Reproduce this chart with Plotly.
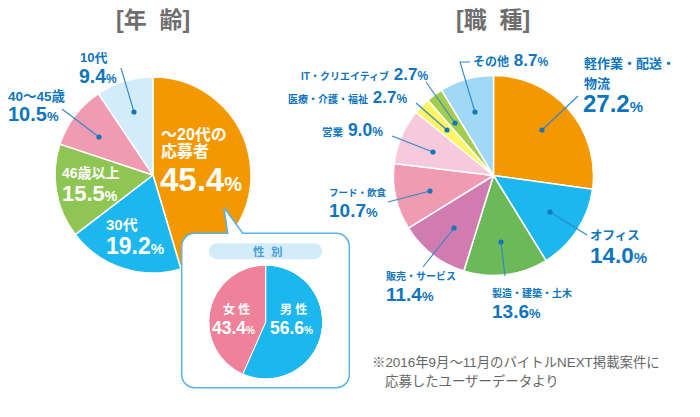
import plotly.graph_objects as go

W, H = 700, 417

# data
age_labels = ["~20代", "30代", "46歳以上", "40~45歳", "10代"]
age_values = [45.4, 19.2, 15.5, 10.5, 9.4]
age_colors = ["#f39800", "#1cb7ee", "#8fc553", "#f09bb2", "#d3ecfa"]

job_labels = ["軽作業・配送・物流", "オフィス", "製造・建築・土木", "販売・サービス", "フード・飲食",
              "営業", "医療・介護・福祉", "IT・クリエイティブ", "その他"]
job_values = [27.2, 14.0, 13.6, 11.4, 10.7, 9.0, 2.7, 2.7, 8.7]
job_colors = ["#f39800", "#1cb7ee", "#6cb959", "#d07cb0", "#f09bb2",
              "#f7c9dd", "#fff462", "#a4cc4f", "#a0d8f6"]

sex_labels = ["男性", "女性"]
sex_values = [56.6, 43.4]
sex_colors = ["#1cb7ee", "#ee829a"]

BLUE = "#0f75bd"
LEAD = "#2f88c8"
GRAY = "#6e6e6e"
FONT = "Liberation Sans, Noto Sans CJK JP"


def px(x):
    return x / W


def py(y):
    return 1 - y / H


def pt(x, y):
    return f"{px(x):.5f},{py(y):.5f}"


def pie(labels, values, colors, cx, cy, r, lw):
    return go.Pie(
        labels=labels, values=values, sort=False, direction="clockwise", rotation=0,
        marker=dict(colors=colors, line=dict(color="white", width=lw)),
        textinfo="none", hoverinfo="label+value", showlegend=False,
        domain=dict(x=[px(cx - r), px(cx + r)], y=[py(cy + r), py(cy - r)]),
    )


fig = go.Figure()
fig.add_trace(pie(age_labels, age_values, age_colors, 153, 175, 98, 1.5))
fig.add_trace(pie(job_labels, job_values, job_colors, 493.5, 175.5, 100, 1.5))
fig.add_trace(pie(sex_labels, sex_values, sex_colors, 265.7, 322, 57, 1))


# callout outline with the tail, clockwise
def callout_path(x0, y0, x1, y1, r):
    k = r * 0.45
    return (
        f"M{pt(x0 + r, y0)} L{pt(227.7, y0)} L{pt(224, 207.5)} L{pt(242.7, y0)} L{pt(x1 - r, y0)} "
        f"C{pt(x1 - k, y0)} {pt(x1, y0 + k)} {pt(x1, y0 + r)} L{pt(x1, y1 - r)} "
        f"C{pt(x1, y1 - k)} {pt(x1 - k, y1)} {pt(x1 - r, y1)} L{pt(x0 + r, y1)} "
        f"C{pt(x0 + k, y1)} {pt(x0, y1 - k)} {pt(x0, y1 - r)} L{pt(x0, y0 + r)} "
        f"C{pt(x0, y0 + k)} {pt(x0 + k, y0)} {pt(x0 + r, y0)} Z"
    )


# counter-clockwise circle, cut out so the small pie stays visible through the white box
def hole_path(cx, cy, r):
    k = r * 0.5523
    return (
        f"M{pt(cx, cy - r)} C{pt(cx - k, cy - r)} {pt(cx - r, cy - k)} {pt(cx - r, cy)} "
        f"C{pt(cx - r, cy + k)} {pt(cx - k, cy + r)} {pt(cx, cy + r)} "
        f"C{pt(cx + k, cy + r)} {pt(cx + r, cy + k)} {pt(cx + r, cy)} "
        f"C{pt(cx + r, cy - k)} {pt(cx + k, cy - r)} {pt(cx, cy - r)} Z"
    )


def pill_path(x0, y0, x1, y1):
    r = (y1 - y0) / 2
    k = r * 0.5523
    return (
        f"M{pt(x0 + r, y0)} L{pt(x1 - r, y0)} "
        f"C{pt(x1 - r + k, y0)} {pt(x1, y0 + r - k)} {pt(x1, y0 + r)} "
        f"C{pt(x1, y1 - r + k)} {pt(x1 - r + k, y1)} {pt(x1 - r, y1)} L{pt(x0 + r, y1)} "
        f"C{pt(x0 + r - k, y1)} {pt(x0, y0 + r + k)} {pt(x0, y0 + r)} "
        f"C{pt(x0, y0 + r - k)} {pt(x0 + r - k, y0)} {pt(x0 + r, y0)} Z"
    )


box = callout_path(181.7, 233.3, 349.3, 387.7, 13)
fig.add_shape(type="path", path=box + " " + hole_path(265.7, 322, 56.5),
              xref="paper", yref="paper", fillcolor="white", line_width=0)
fig.add_shape(type="path", path=box, xref="paper", yref="paper",
              fillcolor="rgba(0,0,0,0)", line=dict(color="#56b4e6", width=1.5))
fig.add_shape(type="path", path=pill_path(209, 243.3, 322, 259.3), xref="paper", yref="paper",
              fillcolor="#d3ecfa", line_width=0)

# leader lines: points run from the label to the dot
leaders = [
    [(121, 68), (134, 112)],
    [(62, 109), (99, 137)],
    [(578, 96), (542, 130)],
    [(470, 62), (460, 62), (475, 112)],
    [(426, 82), (455, 123)],
    [(416, 103), (447, 130)],
    [(392, 136), (433, 152)],
    [(388, 202), (430, 191)],
    [(423, 267), (454, 228)],
    [(505, 276), (501, 242)],
    [(587, 235), (550, 212)],
]
for pts in leaders:
    path = "M" + " L".join(pt(x, y) for x, y in pts)
    fig.add_shape(type="path", path=path, xref="paper", yref="paper",
                  line=dict(color=LEAD, width=1.1))
    x, y = pts[-1]
    fig.add_shape(type="circle", xref="paper", yref="paper",
                  x0=px(x - 2.6), x1=px(x + 2.6), y0=py(y + 2.6), y1=py(y - 2.6),
                  fillcolor=BLUE, line_width=0)


def text(x, y, s, size, color=BLUE, anchor="left", bold=True):
    s = f"<b>{s}</b>" if bold else s
    fig.add_annotation(x=px(x), y=py(y), xref="paper", yref="paper", text=s, showarrow=False,
                       xanchor=anchor, yanchor="middle", align="left",
                       font=dict(family=FONT, size=size, color=color),
                       borderpad=0, borderwidth=0)


def pct(v, size, unit):
    return f"<span style='font-size:{size}px'>{v:.1f}</span><span style='font-size:{unit}px'>%</span>"


def small(s, size):
    return f"<span style='font-size:{size}px'>{s}</span>"


text(153, 20, "[年  齢]", 23, GRAY, "center")
text(493, 20, "[職  種]", 23, GRAY, "center")

# age labels
text(80, 57, age_labels[4], 13)
text(79, 76, pct(age_values[4], 19.5, 12), 19.5)
text(8, 96, "40〜45歳", 13.5)
text(8, 114, pct(age_values[3], 20, 13), 20)
text(161, 134, "〜20代の", 16, "white")
text(161, 151, "応募者", 16, "white")
text(160, 179, pct(age_values[0], 33, 20), 33, "white")
text(62, 173, age_labels[2], 14, "white")
text(62, 193, pct(age_values[2], 22, 14), 22, "white")
text(106, 224, age_labels[1], 15, "white")
text(106, 246, pct(age_values[1], 23, 15), 23, "white")

# sex labels
text(267, 251, "性  別", 11.5, "#4a9fd8", "center")
text(236, 309, "女 性", 12, "white", "center")
text(293, 309, "男 性", 12, "white", "center")
text(212, 328, pct(sex_values[1], 17.5, 10), 17.5, "white")
text(270, 328, pct(sex_values[0], 17.5, 10), 17.5, "white")

# job labels
text(584, 64, "軽作業・配送・", 13)
text(584, 83, "物流", 13)
text(583, 103, pct(job_values[0], 24, 15), 24)
text(473, 61, small(job_labels[8], 12) + " " + pct(job_values[8], 17, 12), 17)
text(301, 74, small(job_labels[7], 10) + " " + pct(job_values[7], 17, 12), 17)
text(288, 97, small(job_labels[6], 10) + " " + pct(job_values[6], 17, 12), 17)
text(322, 130, small(job_labels[5], 10.5) + " " + pct(job_values[5], 17.5, 12), 17.5)
text(329, 192, job_labels[4], 9.5)
text(329, 210, pct(job_values[4], 19, 13), 19)
text(386, 276, job_labels[3], 10)
text(386, 294, pct(job_values[3], 19, 13), 19)
text(492, 293, job_labels[2], 10)
text(492, 311, pct(job_values[2], 19, 13), 19)
text(590, 236, job_labels[1], 12.5)
text(590, 256, pct(job_values[1], 22.5, 15), 22.5)

# note
text(372, 362, "※2016年9月〜11月のバイトルNEXT掲載案件に", 13.4, "#666666", bold=False)
text(385, 381, "応募したユーザーデータより", 13.4, "#666666", bold=False)

fig.update_layout(width=W, height=H, margin=dict(l=0, r=0, t=0, b=0),
                  paper_bgcolor="white", plot_bgcolor="white")

fig.write_html("out.html", config={"displayModeBar": False},
               post_script="document.body.style.margin='0';")
